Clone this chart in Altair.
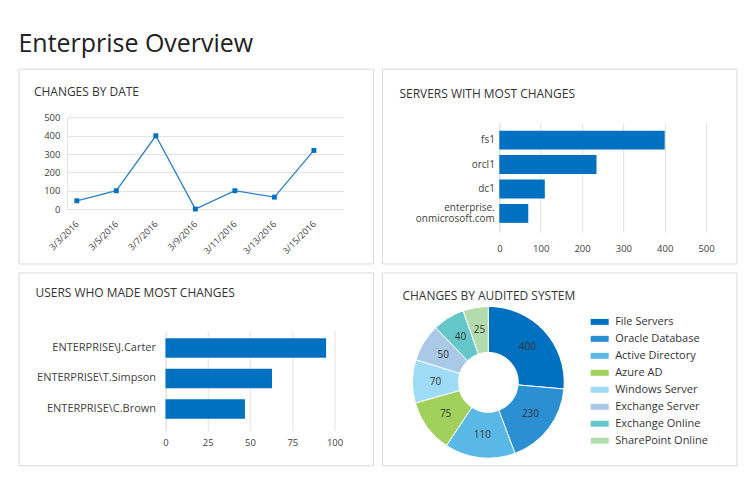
import altair as alt
import pandas as pd

# ---------------- data ----------------
dates = ["2016-03-03T00:00:00", "2016-03-05T00:00:00", "2016-03-07T00:00:00",
         "2016-03-09T00:00:00", "2016-03-11T00:00:00", "2016-03-13T00:00:00",
         "2016-03-15T00:00:00"]
date_changes = [45, 100, 400, 0, 100, 65, 320]

servers = ["fs1", "orcl1", "dc1", "enterprise.\nonmicrosoft.com"]
server_changes = [400, 235, 110, 70]

users = ["ENTERPRISE\\J.Carter", "ENTERPRISE\\T.Simpson", "ENTERPRISE\\C.Brown"]
user_changes = [95, 63, 47]

systems = ["File Servers", "Oracle Database", "Active Directory", "Azure AD",
           "Windows Server", "Exchange Server", "Exchange Online", "SharePoint Online"]
system_values = [400, 230, 110, 75, 70, 50, 40, 25]
system_slice_pct = [26.4, 17.9, 15.0, 11.3, 9.2, 8.0, 6.8, 5.4]
system_colors = ["#0070c0", "#2b8fd4", "#5ab8e6", "#a2d05c",
                 "#9edcf6", "#a9c9e7", "#66c7cb", "#b3dcae"]

# ---------------- style ----------------
FONT = "Open Sans"
BLUE = "#0070c0"
LINE = "#2a80c8"
GRID = "#e1e1e1"
FRAME = "#dadada"
LABEL = "#404040"
TITLE = "#333333"


def frame(x1, x2, y1, y2):
    return alt.Chart(pd.DataFrame({"f": [0]})).mark_rect(
        fill="#ffffff", fillOpacity=0, stroke=FRAME, strokeWidth=1
    ).encode(x=alt.value(x1), x2=alt.value(x2), y=alt.value(y1), y2=alt.value(y2))


def panel_title(text, dx, dy):
    return alt.TitleParams(text, anchor="start", frame="bounds", orient="top",
                           baseline="alphabetic", offset=0, dx=dx, dy=dy,
                           fontSize=12, fontWeight="normal", color=TITLE, font=FONT)


# ---------------- panel 1: changes by date ----------------
df1 = pd.DataFrame({"date": dates, "changes": date_changes})
x1 = alt.X("date:T",
           scale=alt.Scale(domain=[alt.DateTime(year=2016, month=3, date=2, hours=12),
                                   alt.DateTime(year=2016, month=3, date=16, hours=12)],
                           nice=False),
           axis=alt.Axis(format="%-m/%-d/%Y", tickCount={"interval": "day", "step": 2},
                         labelAngle=315, labelAlign="right", labelBaseline="middle",
                         labelPadding=13, labelFontSize=9, labelOverlap=False,
                         labelFlush=False, ticks=False, domain=False, grid=False, title=None))
y1 = alt.Y("changes:Q",
           scale=alt.Scale(domain=[0, 500], range=[86, -5.7], nice=False),
           axis=alt.Axis(values=[0, 100, 200, 300, 400, 500], grid=True, domain=True,
                         ticks=False, labelPadding=7, labelFontSize=9.5,
                         labelFlush=False, title=None))
base1 = alt.Chart(df1).encode(x=x1, y=y1)
p1 = alt.layer(
    frame(-48, 307, -54, 141),
    base1.mark_line(color=LINE, strokeWidth=1.3),
    base1.mark_square(size=24, color=BLUE, opacity=1),
).properties(width=277, height=86, title=panel_title("CHANGES BY DATE", 15.5, 39))

# ---------------- panel 2: servers ----------------
df2 = pd.DataFrame({"server": servers, "changes": server_changes})
p2 = alt.layer(
    frame(-30, 325, -54, 141),
    alt.Chart(df2).mark_bar(color=BLUE).encode(
        x=alt.X("changes:Q",
                scale=alt.Scale(domain=[0, 500], range=[87, 294], nice=False),
                axis=alt.Axis(values=[0, 100, 200, 300, 400, 500], grid=True, domain=False,
                              ticks=False, labelPadding=12, labelFontSize=9.5,
                              labelFlush=False, title=None)),
        y=alt.Y("server:N", sort=servers,
                scale=alt.Scale(paddingInner=0.23, paddingOuter=0.34, align=0.45),
                axis=alt.Axis(offset=-87, domain=True, ticks=False, labelPadding=5,
                              labelFontSize=10, labelLineHeight=11,
                              labelExpr="split(datum.label, '\\n')", title=None,
                              labelOffset={"condition": {
                                  "test": "indexof(datum.value, '\\n') >= 0",
                                  "value": -5.5}, "value": 0})),
    ),
).properties(width=294, height=109, title=panel_title("SERVERS WITH MOST CHANGES", 17.5, 41))

# ---------------- panel 3: users ----------------
df3 = pd.DataFrame({"user": users, "changes": user_changes})
p3 = alt.layer(
    frame(-48, 307, -58, 135),
    alt.Chart(df3).mark_bar(color=BLUE).encode(
        x=alt.X("changes:Q",
                scale=alt.Scale(domain=[0, 100], range=[98.7, 268], nice=False),
                axis=alt.Axis(values=[0, 25, 50, 75, 100], grid=True, domain=False,
                              ticks=False, labelPadding=6.5, labelFontSize=9.5,
                              labelFlush=False, title=None)),
        y=alt.Y("user:N", sort=users,
                scale=alt.Scale(paddingInner=0.36, paddingOuter=0.32, align=0.38),
                axis=alt.Axis(offset=-98.7, domain=True, ticks=False, labelPadding=10,
                              labelFontSize=11, title=None)),
    ),
).properties(width=268, height=100, title=panel_title("USERS WHO MADE MOST CHANGES", 17, 37))

# ---------------- panel 4: audited systems ----------------
df4 = pd.DataFrame({"system": systems, "value": system_values,
                    "share": system_slice_pct, "idx": list(range(len(systems)))})
donut = alt.Chart(df4).mark_arc(innerRadius=30, outerRadius=76, stroke="#ffffff",
                                strokeWidth=1).encode(
    theta=alt.Theta("share:Q", stack=True),
    order=alt.Order("idx:Q"),
    color=alt.Color("system:N", sort=systems,
                    scale=alt.Scale(domain=systems, range=system_colors),
                    legend=alt.Legend(title=None, orient="none", legendX=181.5, legendY=-15,
                                      symbolType="M-1.5,-0.5h3v1h-3z", symbolSize=144,
                                      symbolStrokeWidth=0, labelFontSize=11,
                                      labelColor=TITLE, labelOffset=9.5, rowPadding=6,
                                      labelFont=FONT)),
)
labels = alt.Chart(df4).mark_text(radius=53, fontSize=10, color="#333333", font=FONT).encode(
    theta=alt.Theta("share:Q", stack=True),
    order=alt.Order("idx:Q"),
    text=alt.Text("value:Q"),
)
p4 = alt.layer(frame(-30, 325, -58, 135), donut, labels).properties(
    width=152, height=103, title=panel_title("CHANGES BY AUDITED SYSTEM", 20.5, 40))

chart = alt.concat(
    p1, p2, p3, p4, columns=2, spacing=7, align="each", bounds="full",
    title=alt.TitleParams("Enterprise Overview", anchor="start", frame="bounds",
                          baseline="alphabetic", offset=-8, fontSize=25,
                          fontWeight=500, color="#222222", font=FONT),
).resolve_scale(color="independent").resolve_legend(color="independent").properties(
    padding={"left": 10, "top": 23, "right": 4, "bottom": 4}
).configure(font=FONT).configure_view(stroke=None).configure_axis(
    labelFont=FONT, labelColor=LABEL, gridColor=GRID, domainColor=GRID, gridWidth=1
)

chart.save("out.html", embed_options={"renderer": "svg", "actions": False})
